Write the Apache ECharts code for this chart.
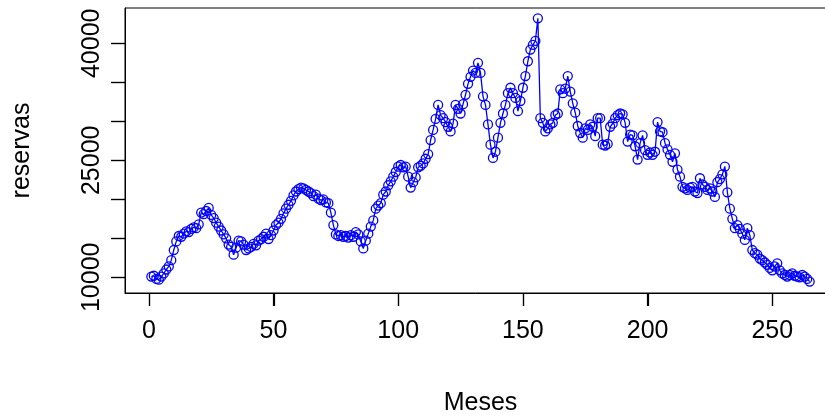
<!DOCTYPE html>
<html>
<head>
<meta charset="utf-8">
<script src="https://cdn.jsdelivr.net/npm/echarts@6/dist/echarts.min.js"></script>
<style>
html,body{margin:0;padding:0;background:#fff;}
#chart{width:825px;height:416px;}
</style>
</head>
<body>
<div id="chart"></div>
<script>
// Values
const reservas = [
10100,10200,9800,9700,10100,10500,11000,11400,12200,13500,
14600,15300,15200,15600,15900,15800,16200,16400,16300,16800,
18300,18100,18500,18900,18000,17600,17000,16500,16000,15500,
15000,14200,13900,12900,13800,14700,14600,14200,13500,13700,
13900,14300,14100,14700,14900,15200,15600,14900,15400,16000,
16700,17000,17500,18200,18800,19300,19800,20500,21000,21300,
21500,21400,21200,21000,20800,20400,20600,20100,19900,20000,
19600,19500,18300,16700,15500,15300,15400,15200,15300,15100,
15400,15200,15800,15500,14600,13700,14700,15600,16500,17300,
18800,19200,19500,20600,21000,21800,22300,22900,23500,24200,
24400,24100,24200,22900,21500,22200,22800,24100,24300,24600,
25200,25800,27600,28900,30300,32100,30800,30400,29900,29300,
28700,29700,32100,31600,31000,32200,33400,34800,35700,36500,
36200,37500,36200,33200,32100,29600,27000,25300,26100,27900,
29800,31000,32100,33600,34300,33600,33000,31300,32600,34300,
35800,37700,39200,39800,40300,43200,30400,29800,28700,29100,
29600,29800,30800,31000,34100,33600,34200,35800,33800,32300,
31100,29400,28500,27900,29100,28900,29600,29300,28100,30400,
30400,27000,26900,27100,29300,29700,30400,30800,31000,30900,
29800,27400,28300,28200,26800,25100,27200,28200,26300,25700,
26000,25700,26100,29900,28700,28600,27200,26400,25700,24800,
25900,23800,22900,21600,21400,21200,21500,21600,21000,20800,
22700,21900,21600,21200,21400,21000,20300,22200,22600,23200,
24200,20900,18800,17500,16300,16700,16200,15600,14800,16300,
15400,13500,13100,12900,12400,12200,11900,11600,11200,10900,
11400,11800,10900,10500,10300,10100,10300,10500,10200,10100,
10000,10300,10100,9800,9450
];
const meses = reservas.map((v, i) => i + 1);
const xTicks = [0, 50, 100, 150, 200, 250];
const xLabels = [0, 50, 100, 150, 200, 250];
const yTicks = [10000, 15000, 20000, 25000, 30000, 35000, 40000];
const yLabels = [10000, 25000, 40000];
const xName = 'Meses';
const yName = 'reservas';

const xMin = -9.56, xMax = 275.56, yMin = 7990, yMax = 44525;
const font = "'Liberation Sans', Arial, Helvetica, sans-serif";
const chart = echarts.init(document.getElementById('chart'), null, {renderer: 'canvas'});
chart.setOption({
  animation: false,
  backgroundColor: '#ffffff',
  grid: {
    left: 125, top: 8, width: 711, height: 285,
    outerBoundsMode: 'none',
    show: true, borderColor: '#000', borderWidth: 1
  },
  xAxis: {
    type: 'value',
    min: xMin, max: xMax,
    name: xName, nameLocation: 'middle', nameGap: 98,
    nameTextStyle: {fontFamily: font, fontSize: 25, color: '#000'},
    axisLine: {show: true, onZero: false, lineStyle: {color: '#000', width: 1}},
    axisTick: {show: true, length: 13, customValues: xTicks,
               lineStyle: {color: '#000', width: 1.2}},
    axisLabel: {show: true, customValues: xLabels, margin: 26,
                formatter: v => String(v),
                fontFamily: font, fontSize: 25, color: '#000'},
    splitLine: {show: false}
  },
  yAxis: {
    type: 'value',
    min: yMin, max: yMax,
    name: yName, nameLocation: 'middle', nameGap: 90, nameRotate: 90,
    nameTextStyle: {fontFamily: font, fontSize: 25, color: '#000'},
    axisLine: {show: true, onZero: false, lineStyle: {color: '#000', width: 1}},
    axisTick: {show: true, length: 14, customValues: yTicks,
               lineStyle: {color: '#000', width: 1.2}},
    axisLabel: {show: true, customValues: yLabels, rotate: 90, margin: 20,
                formatter: v => String(v),
                fontFamily: font, fontSize: 25, color: '#000'},
    splitLine: {show: false}
  },
  series: [{
    type: 'line',
    data: meses.map((m, i) => [m, reservas[i]]),
    symbol: 'circle',
    symbolSize: 9,
    showAllSymbol: true,
    itemStyle: {color: 'rgba(0,0,0,0)', borderColor: '#0000ff', borderWidth: 1.3},
    lineStyle: {color: '#0000ff', width: 1.3},
    emphasis: {disabled: true},
    silent: true
  }]
});

// Tick marks placed through the axes' own scales
const bottomPx = chart.convertToPixel({yAxisIndex: 0}, yMin);
const leftPx = chart.convertToPixel({xAxisIndex: 0}, xMin);
const tickStyle = {stroke: '#000', lineWidth: 1.2};
const tickGraphics = [];
xTicks.forEach(v => {
  const px = Math.round(chart.convertToPixel({xAxisIndex: 0}, v)) + 0.5;
  tickGraphics.push({type: 'line', silent: true, z: 100,
    shape: {x1: px, y1: bottomPx, x2: px, y2: bottomPx + 13}, style: tickStyle});
});
yTicks.forEach(v => {
  const py = Math.round(chart.convertToPixel({yAxisIndex: 0}, v)) + 0.5;
  tickGraphics.push({type: 'line', silent: true, z: 100,
    shape: {x1: leftPx - 14, y1: py, x2: leftPx, y2: py}, style: tickStyle});
});
chart.setOption({graphic: tickGraphics});
</script>
</body>
</html>
